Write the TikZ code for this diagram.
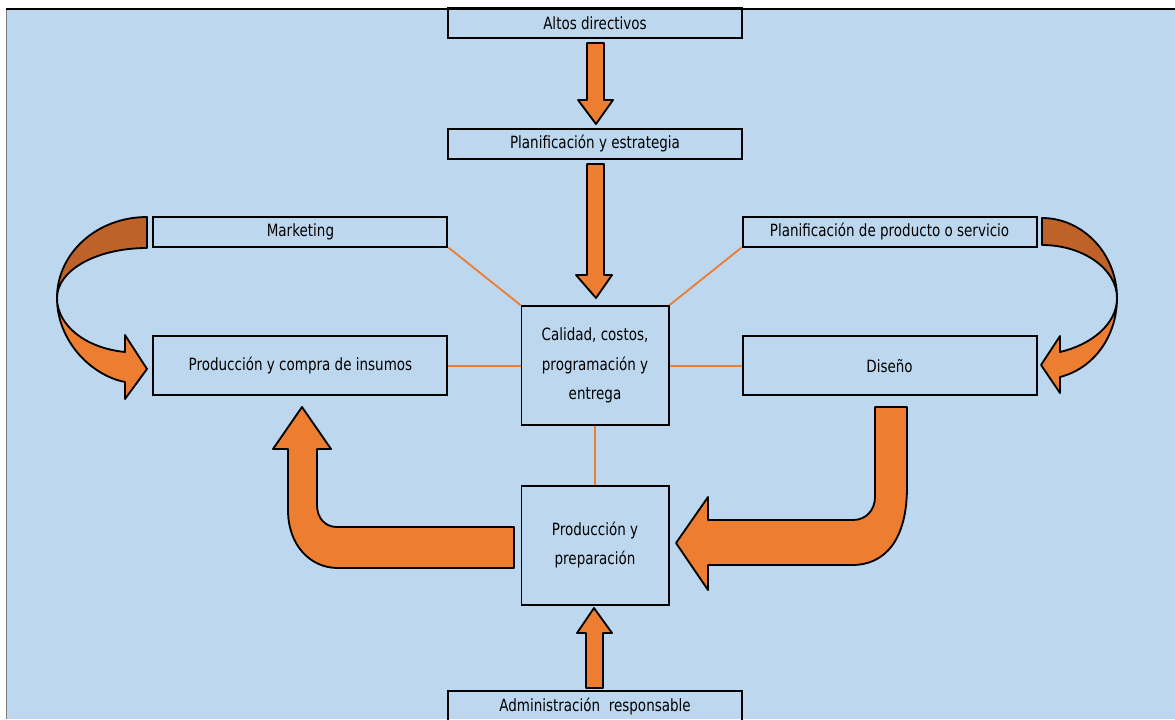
\documentclass[tikz,border=0pt]{standalone}
\usepackage{fontspec}
\setmainfont[FakeStretch=0.8]{DejaVu Sans}
\usepackage{tikz}
\usepackage{xcolor}
\usetikzlibrary{positioning}
\definecolor{fondo}{HTML}{BDD7EE}
\definecolor{naranja}{HTML}{ED7D31}
\definecolor{oscuro}{HTML}{BF6229}
\tikzstyle{thinbox} = [rectangle, minimum width=7.35cm, minimum height=0.75cm, text centered, draw=black, line width=1.4pt, font=\fontsize{12}{20}\selectfont]
\tikzstyle{widebox} = [rectangle, minimum width=7.35cm, minimum height=1.475cm, text centered, draw=black, line width=1.4pt, font=\fontsize{12}{20}\selectfont]
\tikzstyle{bigbox} = [rectangle, minimum width=3.675cm, minimum height=2.975cm, text centered, draw=black, line width=1.4pt, align=center, font=\fontsize{12}{21}\selectfont]
\tikzstyle{link} = [draw=naranja, line width=1.3pt]
\tikzstyle{blockarrow} = [fill=naranja, draw=black, line width=1.3pt, line join=round]
\tikzstyle{backarrow} = [fill=oscuro, draw=black, line width=1.3pt, line join=round]

\begin{document}
\begin{tikzpicture}[x=0.025cm, y=-0.025cm, node distance=7.3625cm]
    \useasboundingbox (0,0) rectangle (1175,719);
    % frame
    \fill[fondo] (7,10) rectangle (1175,719);
    \draw[black, line width=2pt] (6,9) -- (1175,9);
    \draw[gray, line width=0.8pt] (6.5,10) -- (6.5,719);

    \node (alto) [thinbox] at (595,23) {Altos directivos};
    \node (plan) [thinbox, below of=alto, node distance=3.0125cm] {Planificación y estrategia};
    \node (calidad) [bigbox, below of=plan, node distance=5.55cm] {Calidad, costos,\\programación y\\entrega};
    \node (prep) [bigbox, below of=calidad, node distance=4.4875cm] {Producción y\\preparación};
    \node (admin) [thinbox, below of=prep, node distance=4.025cm] {Administración~ responsable};
    \node (compra) [widebox, left of=calidad] {Producción y compra de insumos};
    \node (diseno) [widebox, right of=calidad] {Diseño};
    \node (mkt) [thinbox, above of=compra, node distance=3.35cm] {Marketing};
    \node (prod) [thinbox, above of=diseno, node distance=3.35cm] {Planificación de producto o servicio};

    \draw[link] (mkt.south east) -- (calidad.north west);
    \draw[link] (prod.south west) -- (calidad.north east);
    \draw[link] (compra.east) -- (calidad.west);
    \draw[link] (diseno.west) -- (calidad.east);
    \draw[link] (calidad.south) -- (prep.north);

    % straight arrows
    \draw[blockarrow] (587,43) -- (604,43) -- (604,100) -- (613,100) -- (596,124) -- (578,100) -- (587,100) -- cycle;
    \draw[blockarrow] (587,164) -- (604,164) -- (604,275) -- (612,275) -- (596,298) -- (576,275) -- (587,275) -- cycle;
    \draw[blockarrow] (586,688) -- (603,688) -- (603,633) -- (612,633) -- (594,608) -- (577,633) -- (586,633) -- cycle;

    % bent arrows
    \draw[blockarrow] (514,527) -- (514,568) -- (338,568) .. controls (310,568) and (288,545) .. (288,510)
        -- (288,449) -- (273,449) -- (302,407) -- (331,449) -- (317,449) -- (317,505)
        .. controls (317,518) and (325,527) .. (337,527) -- cycle;
    \draw[blockarrow] (875,407) -- (907,407) -- (907,487) .. controls (907,540) and (885,565) .. (852,565)
        -- (708,565) -- (708,590) -- (676,543) -- (708,497) -- (708,520) -- (853,520)
        .. controls (866,520) and (875,510) .. (875,497) -- cycle;

    % curved arrows
    \draw[backarrow] (147,217) .. controls (97,217) and (57,253) .. (57,298)
        .. controls (57,270) and (97,248) .. (147,248) -- cycle;
    \draw[blockarrow] (57,298) .. controls (57,340) and (90,375) .. (125,382) -- (125,399) -- (147,369)
        -- (125,335) -- (125,352) .. controls (85,348) and (57,325) .. (57,298) -- cycle;
    \draw[backarrow] (1042,218) .. controls (1083,218) and (1117,254) .. (1117,298)
        .. controls (1117,269) and (1083,245) .. (1042,245) -- cycle;
    \draw[blockarrow] (1117,298) .. controls (1117,335) and (1095,368) .. (1060,377) -- (1060,393) -- (1041,365)
        -- (1060,336) -- (1060,352) .. controls (1090,345) and (1117,325) .. (1117,298) -- cycle;
\end{tikzpicture}
\end{document}
